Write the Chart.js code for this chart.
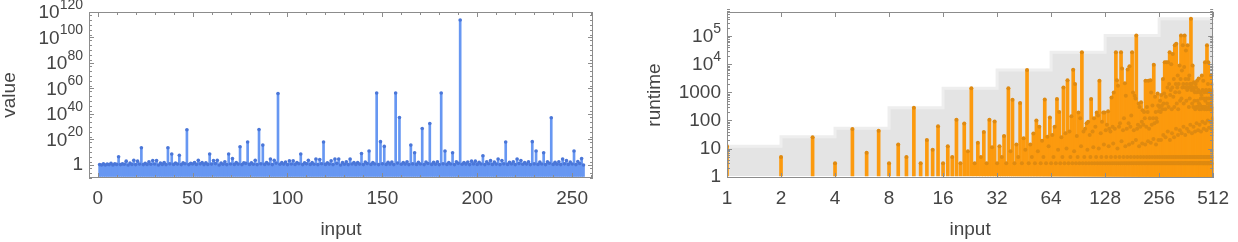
<!DOCTYPE html>
<html>
<head>
<meta charset="utf-8">
<script src="https://cdn.jsdelivr.net/npm/chart.js@4.4.1/dist/chart.umd.min.js"></script>
<style>
  html, body { margin: 0; padding: 0; background: #fff; }
  #wrap { position: relative; width: 1238px; height: 242px; }
  .panel { position: absolute; top: 0; width: 619px; height: 242px; }
</style>
</head>
<body>
<div id="wrap">
  <div class="panel" style="left:0"><canvas id="valueChart" width="619" height="242"></canvas></div>
  <div class="panel" style="left:619px"><canvas id="runtimeChart" width="619" height="242"></canvas></div>
</div>
<script>
// left panel: value for input 1..256
var leftValues = [
  2, 1, 8, 1, 5, 2, 20, 1, 10, 3, 3e6, 2, 8, 4, 1e3, 1,
  30, 3, 5e3, 2, 1e3, 5, 3e13, 2, 20, 3, 300, 4, 3e3, 6, 3e3, 1,
  30, 3, 100, 2, 3e13, 8, 4e8, 3, 40, 5, 4e7, 2, 50, 10, 4e27, 2,
  20, 6, 100, 3, 5e3, 8, 100, 2, 60, 3, 4e8, 5, 3e3, 12, 5e3, 1,
  40, 4, 300, 2, 4e8, 6, 1e5, 3, 80, 5, 2e14, 2, 50, 20, 1e18, 3,
  60, 4, 5e3, 2, 6e27, 8, 4e15, 3, 90, 6, 5e4, 2, 5e3, 30, 1e56, 4,
  70, 5, 200, 2, 2e3, 6, 2e3, 3, 80, 10, 4e8, 2, 60, 8, 5e3, 3,
  100, 4, 5e4, 2, 2e4, 9, 1e18, 3, 60, 5, 2e3, 2, 5e4, 20, 5e4, 1,
  80, 4, 300, 2, 5e4, 6, 100, 3, 90, 5, 1e9, 2, 200, 12, 1e11, 3,
  100, 6, 3e56, 2, 2e18, 8, 4e14, 3, 150, 5, 200, 2, 3e56, 30, 2e37, 4,
  100, 5, 300, 2, 4e15, 7, 4e9, 3, 120, 6, 4e28, 2, 200, 15, 4e32, 3,
  150, 4, 400, 2, 3e56, 8, 1e11, 3, 100, 6, 4e9, 2, 300, 20, 6e113, 4,
  100, 5, 200, 2, 1e3, 7, 1e3, 3, 150, 6, 2e7, 2, 300, 10, 3e3, 3,
  200, 5, 5e4, 2, 3e3, 8, 1e18, 3, 150, 6, 300, 2, 5e4, 12, 3e3, 4,
  100, 5, 400, 2, 2e18, 7, 1e11, 3, 200, 6, 4e9, 2, 300, 25, 1e37, 3,
  150, 4, 400, 2, 5e4, 8, 3e3, 3, 200, 6, 1e11, 2, 500, 15, 1e5, 1
];

// right panel: runtime for input 1..511
var runtimeValues = [
  12, 5, 25, 3, 49, 7, 43, 3, 14, 5, 280, 3, 20, 9, 62, 3,
  12, 5, 105, 3, 78, 8, 1390, 3, 16, 5, 39, 3, 105, 11, 92, 3,
  12, 5, 28, 3, 1390, 8, 545, 3, 14, 5, 420, 3, 23, 9, 6250, 3,
  14, 5, 34, 3, 100, 8, 60, 3, 19, 5, 550, 3, 26, 12, 128, 3,
  30, 5, 60, 3, 575, 9, 200, 3, 25, 5, 1500, 3, 35, 10, 2700, 3,
  40, 5, 140, 3, 6400, 8, 2000, 3, 28, 5, 190, 3, 120, 12, 27000, 3,
  40, 5, 50, 3, 80, 9, 90, 3, 30, 5, 575, 3, 40, 11, 120, 3,
  60, 5, 190, 3, 150, 10, 2570, 3, 35, 5, 90, 3, 190, 14, 190, 3,
  45, 5, 70, 3, 210, 12, 50, 3, 40, 5, 660, 3, 60, 15, 980, 3,
  50, 5, 27000, 3, 2700, 10, 1700, 3, 60, 5, 80, 3, 27000, 18, 7000, 3,
  45, 5, 120, 3, 2100, 12, 750, 3, 50, 5, 6500, 3, 80, 14, 8500, 3,
  60, 5, 150, 3, 27000, 16, 980, 3, 45, 5, 750, 3, 600, 20, 105000, 3,
  50, 5, 70, 3, 400, 12, 300, 3, 60, 5, 440, 3, 90, 15, 230, 3,
  70, 5, 200, 3, 120, 14, 2600, 3, 60, 5, 300, 3, 200, 18, 2600, 3,
  50, 5, 120, 3, 2700, 16, 980, 3, 70, 5, 340, 3, 120, 22, 9500, 3,
  80, 5, 700, 3, 200, 14, 120, 3, 90, 5, 900, 3, 340, 20, 210, 3,
  300, 5, 500, 3, 200, 20, 800, 3, 330, 5, 250, 3, 3000, 30, 400, 3,
  900, 5, 11800, 3, 250, 25, 700, 3, 11800, 5, 400, 3, 1500, 40, 11800, 3,
  300, 5, 2000, 3, 27000, 20, 800, 3, 1200, 5, 10000, 3, 250, 35, 1500, 3,
  23000, 5, 700, 3, 3000, 25, 300, 3, 47000, 5, 1000, 3, 2000, 50, 54000, 3,
  400, 5, 1500, 3, 4000, 30, 250, 3, 2000, 5, 1000, 3, 9000, 45, 500, 3,
  3000, 5, 105000, 3, 600, 35, 6000, 3, 1500, 5, 47000, 3, 2000, 60, 400, 3,
  8000, 5, 105000, 3, 1500, 30, 3000, 3, 31000, 5, 500, 3, 2000, 50, 1200, 3,
  47000, 5, 1500, 3, 3000, 40, 300, 3, 4000, 5, 600, 3, 2000, 70, 1500, 3,
  420000, 5, 1200, 3, 2000, 35, 400, 3, 9000, 5, 1500, 3, 300, 60, 1200, 3,
  2300, 5, 500, 3, 1000, 40, 250, 3, 2000, 5, 1500, 3, 300, 80, 1000, 3,
  2600, 5, 500, 3, 300, 45, 1200, 3, 3100, 5, 400, 3, 250, 70, 1000, 3,
  350, 5, 1000, 3, 600, 40, 250, 3, 800, 5, 4000, 3, 300, 90, 1200, 3,
  300, 5, 2600, 3, 600, 50, 300, 3, 1000, 5, 250, 3, 11800, 80, 500, 3,
  300, 5, 1200, 3, 600, 45, 250, 3, 47000, 5, 1000, 3, 400, 100, 2000, 3,
  11800, 5, 600, 3, 300, 55, 1200, 3, 250, 5, 1000, 3, 400, 90, 300, 3,
  1000, 5, 4000, 3, 600, 50, 250, 3, 800, 5, 2000, 3, 300, 120, 1200
];

// grey band: largest runtime in each doubling of the input
var stepStarts = [1, 2, 4, 8, 16, 32, 64, 128, 256, 512];
var stepMax = [12, 26, 53, 280, 1400, 6300, 27000, 105000, 420000, 420000];

var leftXTicks = [0, 50, 100, 150, 200, 250];
var leftYTicks = [1, 1e20, 1e40, 1e60, 1e80, 1e100, 1e120];
var leftYLabels = ['1', '10^20', '10^40', '10^60', '10^80', '10^100', '10^120'];
var rightXTicks = [1, 2, 4, 8, 16, 32, 64, 128, 256, 512];
var rightYTicks = [1, 10, 100, 1000, 1e4, 1e5];
var rightYLabels = ['1', '10', '100', '1000', '10^4', '10^5'];

var FONT = "'Liberation Sans', Arial, sans-serif";
var TEXT = '#444444';
var FRAME = '#8c8c8c';

Chart.defaults.font.family = FONT;
Chart.defaults.font.size = 19;
Chart.defaults.color = TEXT;

function drawTickText(ctx, text, xRight, y) {
    var parts = text.split('^');
    ctx.textAlign = 'right';
    ctx.textBaseline = 'middle';
    if (parts.length > 1) {
        ctx.font = '14px ' + FONT;
        var w = ctx.measureText(parts[1]).width;
        ctx.fillText(parts[1], xRight, y - 7);
        ctx.font = '19px ' + FONT;
        ctx.fillText(parts[0], xRight - w, y + 1);
    } else {
        ctx.font = '19px ' + FONT;
        ctx.fillText(text, xRight, y);
    }
}

// frame with inward ticks, plus y labels with raised exponents
function framePlugin(cfg) {
    return {
        id: 'frame',
        afterDatasetsDraw: function (chart) {
            var ctx = chart.ctx, a = chart.chartArea;
            var xs = chart.scales.x, ys = chart.scales.y;
            ctx.save();
            ctx.strokeStyle = FRAME;
            ctx.lineWidth = 1;
            ctx.strokeRect(Math.round(a.left) + 0.5, Math.round(a.top) + 0.5,
                Math.round(a.right - a.left) - 1, Math.round(a.bottom - a.top) - 1);
            ctx.beginPath();
            function xTick(v, len) {
                var p = Math.round(xs.getPixelForValue(v)) + 0.5;
                ctx.moveTo(p, a.bottom); ctx.lineTo(p, a.bottom - len);
                ctx.moveTo(p, a.top); ctx.lineTo(p, a.top + len);
            }
            function yTick(v, len) {
                var p = Math.round(ys.getPixelForValue(v)) + 0.5;
                ctx.moveTo(a.left, p); ctx.lineTo(a.left + len, p);
                ctx.moveTo(a.right, p); ctx.lineTo(a.right - len, p);
            }
            cfg.xMajor.forEach(function (v) { xTick(v, 5); });
            cfg.xMinor.forEach(function (v) { xTick(v, 3); });
            cfg.yMajor.forEach(function (v) { yTick(v, 5); });
            cfg.yMinor.forEach(function (v) { yTick(v, 3); });
            ctx.stroke();
            ctx.fillStyle = TEXT;
            cfg.yMajor.forEach(function (v, i) {
                drawTickText(ctx, cfg.yLabels[i], a.left - 6, ys.getPixelForValue(v));
            });
            ctx.restore();
        }
    };
}

function axisTitle(text, pad) {
    return { display: true, text: text, color: TEXT, padding: pad, font: { size: 19, lineHeight: 1 } };
}

var leftMinorX = [];
for (var t = 10; t <= 260; t += 10) if (t % 50 !== 0) leftMinorX.push(t);
var leftMinorY = [];
for (var e = -10; e <= 120; e += 4) if (e % 20 !== 0) leftMinorY.push(Math.pow(10, e));
var rightMinorY = [];
for (var d = 0; d <= 5; d++) for (var m = 2; m <= 9; m++) rightMinorY.push(m * Math.pow(10, d));

var leftBase = 1e-9;
new Chart(document.getElementById('valueChart').getContext('2d'), {
    type: 'bar',
    data: {
        datasets: [
            {
                type: 'scatter',
                data: leftValues.map(function (v, i) { return { x: i + 1, y: v }; }),
                pointRadius: 1.8,
                pointBackgroundColor: '#4a76d8',
                pointBorderWidth: 0,
                order: 1
            },
            {
                data: leftValues.map(function (v, i) { return { x: i + 1, y: [leftBase, v] }; }),
                backgroundColor: '#6797f2',
                barThickness: 2,
                order: 2
            }
        ]
    },
    options: {
        responsive: false,
        animation: false,
        devicePixelRatio: 1,
        layout: { padding: { top: 12, right: 26, left: 0, bottom: 0 } },
        plugins: { legend: { display: false }, tooltip: { enabled: false } },
        scales: {
            x: {
                type: 'linear', min: -4.6, max: 261, offset: false,
                grid: { display: false, drawTicks: false }, border: { display: false },
                ticks: { padding: 9, maxRotation: 0, autoSkip: false, callback: function (v) { return String(v); } },
                afterBuildTicks: function (s) { s.ticks = leftXTicks.map(function (v) { return { value: v }; }); },
                afterFit: function (s) { s.height = 64; },
                title: axisTitle('input', { top: 0, bottom: 3 })
            },
            y: {
                type: 'logarithmic', min: Math.pow(10, -10.2), max: 1e120,
                grid: { display: false, drawTicks: false }, border: { display: false },
                ticks: { display: false },
                afterBuildTicks: function (s) { s.ticks = leftYTicks.map(function (v) { return { value: v }; }); },
                afterFit: function (s) { s.width = 89; },
                title: axisTitle('value', { top: 0, bottom: 0 })
            }
        }
    },
    plugins: [framePlugin({ xMajor: leftXTicks, xMinor: leftMinorX, yMajor: leftYTicks, yMinor: leftMinorY, yLabels: leftYLabels })]
});

var rightBase = 1.05;
new Chart(document.getElementById('runtimeChart').getContext('2d'), {
    type: 'bar',
    data: {
        datasets: [
            {
                type: 'scatter',
                data: runtimeValues.map(function (v, i) { return { x: i + 1, y: v }; }),
                pointRadius: 2,
                pointBackgroundColor: '#df8a10',
                pointBorderWidth: 0,
                order: 1
            },
            {
                data: runtimeValues.map(function (v, i) { return { x: i + 1, y: [rightBase, v] }; }),
                backgroundColor: '#fc9a0e',
                barThickness: 3,
                order: 2
            },
            {
                type: 'line',
                data: stepStarts.map(function (x, i) { return { x: x, y: stepMax[i] }; }),
                stepped: true,
                borderColor: '#eeeeee',
                borderWidth: 3,
                backgroundColor: '#e4e4e4',
                fill: { value: rightBase },
                pointRadius: 0,
                order: 3
            }
        ]
    },
    options: {
        responsive: false,
        animation: false,
        devicePixelRatio: 1,
        layout: { padding: { top: 12, right: 16, left: 0, bottom: 0 } },
        plugins: { legend: { display: false }, tooltip: { enabled: false } },
        scales: {
            x: {
                type: 'logarithmic', min: 1, max: 512, offset: false,
                grid: { display: false, drawTicks: false }, border: { display: false },
                ticks: { padding: 9, maxRotation: 0, autoSkip: false, callback: function (v) { return String(v); } },
                afterBuildTicks: function (s) { s.ticks = rightXTicks.map(function (v) { return { value: v }; }); },
                afterFit: function (s) { s.height = 64; },
                title: axisTitle('input', { top: 0, bottom: 3 })
            },
            y: {
                type: 'logarithmic', min: Math.pow(10, -0.05), max: Math.pow(10, 5.86),
                grid: { display: false, drawTicks: false }, border: { display: false },
                ticks: { display: false },
                afterBuildTicks: function (s) { s.ticks = rightYTicks.map(function (v) { return { value: v }; }); },
                afterFit: function (s) { s.width = 108; },
                title: axisTitle('runtime', { top: 26, bottom: 0 })
            }
        }
    },
    plugins: [framePlugin({ xMajor: rightXTicks, xMinor: [], yMajor: rightYTicks, yMinor: rightMinorY, yLabels: rightYLabels })]
});
</script>
</body>
</html>
